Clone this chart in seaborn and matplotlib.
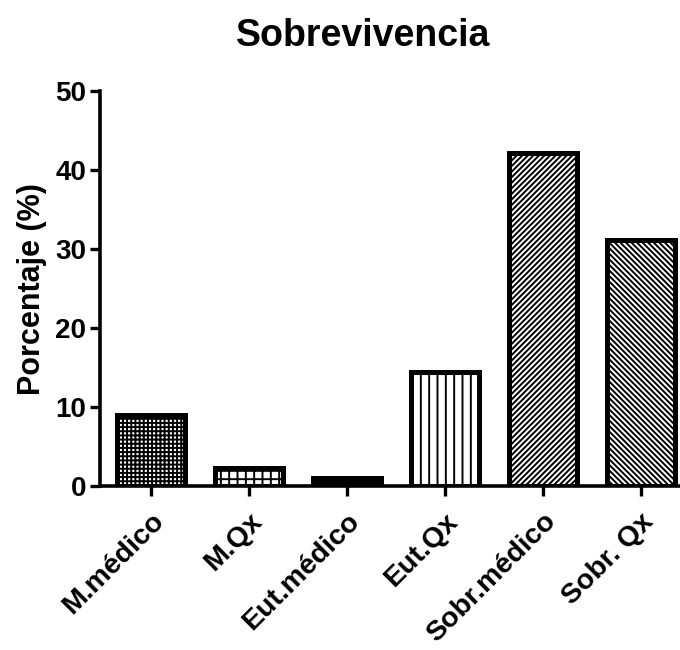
import matplotlib
matplotlib.use("Agg")
import matplotlib.pyplot as plt
import seaborn as sns
import pandas as pd

categories = ["M.médico", "M.Qx", "Eut.médico", "Eut.Qx", "Sobr.médico", "Sobr. Qx"]
values = [9.0, 2.3, 1.1, 14.4, 42.2, 31.1]
hatches = ["++++", "++", "", "||", "//////", "\\\\\\\\\\\\"]

sns.set_style("ticks")
plt.rcParams["font.family"] = ["Liberation Sans", "DejaVu Sans"]
plt.rcParams["font.weight"] = "bold"
plt.rcParams["hatch.linewidth"] = 1.4
plt.rcParams["text.color"] = "black"
plt.rcParams["axes.labelcolor"] = "black"
plt.rcParams["xtick.color"] = "black"
plt.rcParams["ytick.color"] = "black"
plt.rcParams["axes.edgecolor"] = "black"

df = pd.DataFrame({"categoria": categories, "porcentaje": values})

fig = plt.figure(figsize=(6.8, 6.5), dpi=100)
ax = fig.add_axes([0.147, 0.252, 0.853, 0.608])

sns.barplot(data=df, x="categoria", y="porcentaje", color="white",
            edgecolor="black", linewidth=3.6, width=0.7, ax=ax)

for patch, h in zip(ax.patches, hatches):
    patch.set_hatch(h)
    if h == "":
        patch.set_facecolor("black")

ax.set_ylim(0, 50)
ax.set_xlim(-0.52, 5.4)
ax.set_yticks([0, 10, 20, 30, 40, 50])
ax.set_xlabel("")
ax.set_ylabel("Porcentaje (%)", fontsize=22, fontweight="bold", labelpad=6)
fig.text(0.534, 0.945, "Sobrevivencia", fontsize=27, fontweight="bold",
         ha="center", va="center")

ax.tick_params(axis="both", width=2.4, length=7, labelsize=20, pad=3)
ax.tick_params(axis="x", labelsize=20.5, pad=9)
for lbl in ax.get_yticklabels():
    lbl.set_fontweight("bold")
for lbl in ax.get_xticklabels():
    lbl.set_fontweight("bold")
    lbl.set_rotation(45)
    lbl.set_ha("right")
    lbl.set_rotation_mode("anchor")

sns.despine(ax=ax)
for s in ["left", "bottom"]:
    ax.spines[s].set_linewidth(2.6)

fig.savefig("out.png", dpi=100)
